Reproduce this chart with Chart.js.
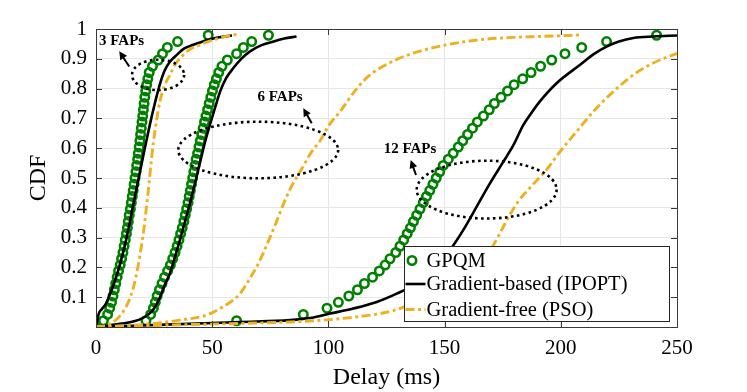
<!DOCTYPE html>
<html><head><meta charset="utf-8">
<script src="https://cdn.jsdelivr.net/npm/chart.js@4.4.1/dist/chart.umd.min.js"></script>
<style>html,body{margin:0;padding:0;background:#fff;}#wrap{width:747px;height:392px;}</style>
</head><body><div id="wrap"><canvas id="c" width="747" height="392"></canvas></div>
<script>
// ---------- data ----------
const xTicks = [0, 50, 100, 150, 200, 250];
const yTicks = [0, 0.1, 0.2, 0.3, 0.4, 0.5, 0.6, 0.7, 0.8, 0.9, 1];
const seriesLabels = ['GPQM', 'Gradient-based (IPOPT)', 'Gradient-free (PSO)'];
const groupLabels = ['3 FAPs', '6 FAPs', '12 FAPs'];

// GPQM empirical CDF levels (same steps for every group)
const cdfLevels = [0, 0.021, 0.042, 0.063, 0.083, 0.104, 0.125, 0.146, 0.167, 0.188, 0.208, 0.229, 0.25, 0.271, 0.292, 0.313, 0.333, 0.354, 0.375, 0.396, 0.417, 0.438, 0.458, 0.479, 0.5, 0.521, 0.542, 0.563, 0.583, 0.604, 0.625, 0.646, 0.667, 0.688, 0.708, 0.729, 0.75, 0.771, 0.792, 0.813, 0.833, 0.854, 0.875, 0.896, 0.917, 0.938, 0.958, 0.979];
const gpqm3Delay = [0, 3.2, 5.0, 5.9, 6.7, 7.3, 7.9, 8.5, 9.1, 9.7, 10.4, 11.0, 11.6, 12.1, 12.6, 13.1, 13.5, 13.9, 14.3, 14.8, 15.2, 15.6, 16.0, 16.4, 16.8, 17.2, 17.5, 17.9, 18.2, 18.6, 18.9, 19.2, 19.5, 19.8, 20.1, 20.4, 20.7, 21.0, 21.4, 21.8, 22.3, 22.9, 24.3, 26.8, 28.6, 30.7, 35.1, 48.3];
const gpqm6Delay = [0, 21.5, 23.5, 24.7, 25.5, 26.3, 27.3, 28.4, 29.5, 30.8, 32.0, 33.0, 34.0, 34.9, 35.7, 36.4, 37.1, 37.8, 38.4, 39.0, 39.6, 40.1, 40.6, 41.1, 41.6, 42.1, 42.6, 43.1, 43.7, 44.3, 44.9, 45.5, 46.1, 46.7, 47.3, 48.0, 48.7, 49.4, 50.1, 50.9, 51.8, 52.8, 54.2, 56.5, 60.5, 63.4, 67.0, 74.2];
const gpqm12Delay = [0, 60.5, 89.2, 99.4, 104.3, 108.8, 112.5, 115.5, 119.0, 121.9, 124.4, 126.5, 129.0, 130.8, 132.4, 133.9, 135.3, 136.6, 138.0, 139.4, 140.8, 142.2, 143.6, 145.0, 146.4, 147.9, 149.4, 151.6, 153.7, 155.9, 157.8, 159.9, 162.0, 164.1, 166.7, 169.2, 171.4, 174.3, 177.1, 179.9, 183.6, 187.2, 191.3, 196.1, 201.8, 209.0, 219.7, 241.2];

// Gradient-based (IPOPT)
const ipopt3Delay = [0, 0.5, 1.2, 2.5, 4.0, 5.5, 7.5, 10.3, 13.2, 16.0, 18.9, 21.0, 23.2, 25.3, 27.5, 29.5, 31.8, 35.0, 38.0, 41.9, 48.0, 53.0, 58.5];
const ipopt3Cdf   = [0, 0.02, 0.045, 0.06, 0.075, 0.1, 0.14, 0.21, 0.3, 0.41, 0.52, 0.6, 0.68, 0.75, 0.815, 0.86, 0.89, 0.915, 0.935, 0.947, 0.963, 0.972, 0.978];
const ipopt6Delay = [0, 8, 16.8, 20, 22.5, 25, 27.5, 29.5, 31.8, 34, 36.1, 38.2, 40.4, 42.5, 44.5, 46.9, 49, 51.2, 53.4, 56, 59.1, 62.5, 66.3, 71, 76.3, 81, 86.3];
const ipopt6Cdf   = [0, 0.008, 0.02, 0.03, 0.042, 0.062, 0.1, 0.14, 0.18, 0.235, 0.292, 0.35, 0.415, 0.48, 0.544, 0.62, 0.678, 0.735, 0.79, 0.835, 0.869, 0.9, 0.925, 0.945, 0.958, 0.968, 0.975];
const ipopt12Delay = [0, 30, 62, 83.5, 92, 100.7, 110.7, 120.8, 129.4, 138, 145.1, 152.3, 158, 163.8, 169.5, 175.3, 179.6, 183.9, 187.5, 191, 198.2, 208.3, 214, 219.7, 225, 231.2, 240, 250];
const ipopt12Cdf   = [0, 0.008, 0.017, 0.023, 0.03, 0.045, 0.062, 0.084, 0.112, 0.146, 0.19, 0.258, 0.325, 0.404, 0.482, 0.555, 0.61, 0.678, 0.72, 0.757, 0.818, 0.88, 0.915, 0.941, 0.958, 0.97, 0.975, 0.978];

// Gradient-free (PSO)
const pso3Delay = [0, 4, 7.5, 9.5, 11.8, 14, 16, 18, 19.5, 20.8, 21.8, 22.8, 23.7, 24.7, 26, 27.5, 29.5, 31.8, 34, 36.9, 40, 44.7, 50, 56, 62];
const pso3Cdf   = [0, 0.004, 0.017, 0.03, 0.053, 0.085, 0.13, 0.2, 0.27, 0.34, 0.41, 0.48, 0.55, 0.62, 0.69, 0.757, 0.81, 0.846, 0.88, 0.908, 0.93, 0.947, 0.962, 0.975, 0.984];
const pso6Delay = [0, 20, 36, 47.6, 54, 59, 62, 66, 70, 74, 77.5, 80.5, 84, 88.5, 92.5, 96.4, 100.5, 105, 112.2, 117, 122.2, 130, 136.5, 150.9, 165.2, 179.6, 191, 209];
const pso6Cdf   = [0, 0.008, 0.023, 0.04, 0.065, 0.09, 0.112, 0.16, 0.215, 0.285, 0.35, 0.41, 0.47, 0.53, 0.585, 0.625, 0.68, 0.723, 0.8, 0.84, 0.869, 0.9, 0.919, 0.947, 0.964, 0.972, 0.975, 0.98];
const pso12Delay = [0, 40, 83.5, 97.8, 112.2, 122.2, 128, 133.5, 140, 148, 155, 161, 166, 171, 174.5, 178.1, 182, 186.5, 190, 193.9, 199.6, 206.8, 214, 222.6, 231.2, 239.8, 250];
const pso12Cdf   = [0, 0.008, 0.017, 0.023, 0.034, 0.045, 0.055, 0.07, 0.088, 0.11, 0.14, 0.18, 0.225, 0.275, 0.325, 0.377, 0.425, 0.465, 0.495, 0.528, 0.588, 0.656, 0.723, 0.79, 0.846, 0.886, 0.918];

// group annotations (data coordinates): ellipse centre/radii, label, arrow tail->head
const annotations = [
  {label: groupLabels[0], cx: 26.7, cy: 0.846, rx: 11.2, ry: 0.051, lx: 11, ly: 0.96, ax0: 14.3, ay0: 0.874, ax1: 10.0, ay1: 0.925},
  {label: groupLabels[1], cx: 69.8, cy: 0.594, rx: 34.4, ry: 0.095, lx: 79.2, ly: 0.771, ax0: 92.8, ay0: 0.684, ax1: 89.2, ay1: 0.734},
  {label: groupLabels[2], cx: 168.1, cy: 0.461, rx: 30.1, ry: 0.097, lx: 135.1, ly: 0.598, ax0: 137.7, ay0: 0.51, ax1: 135.4, ay1: 0.56}
];

// ---------- styles ----------
const GREEN = '#008000', BLACK = '#000000', ORANGE = '#EDB120';
const SERIF = '"Liberation Serif", "DejaVu Serif", serif';
const PSO_DASH = [9, 3.5, 3, 3.5];

const zip = (xs, ys) => xs.map((x, i) => ({x: x, y: ys[i]}));

function gpqmSet(delays) {
  return {label: seriesLabels[0], data: zip(delays, cdfLevels), showLine: false,
    pointStyle: 'circle', pointRadius: 4.2, pointBorderWidth: 2.6, pointBorderColor: GREEN,
    pointBackgroundColor: 'rgba(0,0,0,0)', borderColor: GREEN, order: 3};
}
function lineSet(label, delays, cdf, color, dash) {
  return {label: label, data: zip(delays, cdf), showLine: true, borderColor: color,
    borderWidth: color === ORANGE ? 2.9 : 2.6,
    borderDash: dash || [], pointRadius: 0, fill: false, cubicInterpolationMode: 'monotone',
    order: color === ORANGE ? 1 : 2};
}

const datasets = [
  gpqmSet(gpqm3Delay), gpqmSet(gpqm6Delay), gpqmSet(gpqm12Delay),
  lineSet(seriesLabels[1], ipopt3Delay, ipopt3Cdf, BLACK), lineSet(seriesLabels[1], ipopt6Delay, ipopt6Cdf, BLACK),
  lineSet(seriesLabels[1], ipopt12Delay, ipopt12Cdf, BLACK),
  lineSet(seriesLabels[2], pso3Delay, pso3Cdf, ORANGE, PSO_DASH), lineSet(seriesLabels[2], pso6Delay, pso6Cdf, ORANGE, PSO_DASH),
  lineSet(seriesLabels[2], pso12Delay, pso12Cdf, ORANGE, PSO_DASH)
];

// frame + inward ticks
const framePlugin = {
  id: 'frame',
  afterDatasetsDraw(chart) {
    const {ctx, chartArea: a, scales: {x, y}} = chart;
    ctx.save();
    ctx.strokeStyle = '#3a3a3a'; ctx.lineWidth = 1; ctx.setLineDash([]);
    ctx.beginPath();
    xTicks.forEach(v => { const px = Math.round(x.getPixelForValue(v)) + 0.5;
      ctx.moveTo(px, a.bottom); ctx.lineTo(px, a.bottom - 6); ctx.moveTo(px, a.top); ctx.lineTo(px, a.top + 6); });
    yTicks.forEach(v => { const py = Math.round(y.getPixelForValue(v)) + 0.5;
      ctx.moveTo(a.left, py); ctx.lineTo(a.left + 6, py); ctx.moveTo(a.right, py); ctx.lineTo(a.right - 6, py); });
    ctx.stroke();
    ctx.strokeRect(Math.round(a.left) + 0.5, Math.round(a.top) + 0.5, Math.round(a.right - a.left), Math.round(a.bottom - a.top));
    ctx.restore();
  }
};

const annotPlugin = {
  id: 'annot',
  afterDatasetsDraw(chart) {
    const {ctx, scales: {x, y}} = chart;
    ctx.save();
    annotations.forEach(an => {
      const cx = x.getPixelForValue(an.cx), cy = y.getPixelForValue(an.cy);
      const rx = x.getPixelForValue(an.cx + an.rx) - cx, ry = cy - y.getPixelForValue(an.cy + an.ry);
      ctx.setLineDash([2.6, 3.4]); ctx.lineWidth = 2.6; ctx.strokeStyle = '#000'; ctx.lineCap = 'butt';
      ctx.beginPath(); ctx.ellipse(cx, cy, rx, ry, 0, 0, Math.PI * 2); ctx.stroke();
      // arrow
      const x0 = x.getPixelForValue(an.ax0), y0 = y.getPixelForValue(an.ay0);
      const x1 = x.getPixelForValue(an.ax1), y1 = y.getPixelForValue(an.ay1);
      const ang = Math.atan2(y1 - y0, x1 - x0), hl = 8, hw = 4;
      ctx.setLineDash([]); ctx.lineWidth = 2;
      ctx.beginPath(); ctx.moveTo(x0, y0); ctx.lineTo(x1 - hl * Math.cos(ang) * 0.8, y1 - hl * Math.sin(ang) * 0.8); ctx.stroke();
      ctx.fillStyle = '#000'; ctx.beginPath();
      ctx.moveTo(x1, y1);
      ctx.lineTo(x1 - hl * Math.cos(ang) + hw * Math.sin(ang), y1 - hl * Math.sin(ang) - hw * Math.cos(ang));
      ctx.lineTo(x1 - hl * Math.cos(ang) - hw * Math.sin(ang), y1 - hl * Math.sin(ang) + hw * Math.cos(ang));
      ctx.closePath(); ctx.fill();
      // label
      ctx.font = 'bold 15px ' + SERIF; ctx.textAlign = 'center'; ctx.textBaseline = 'middle';
      ctx.fillText(an.label, x.getPixelForValue(an.lx), y.getPixelForValue(an.ly));
    });
    ctx.restore();
  }
};

const legendPlugin = {
  id: 'boxLegend',
  afterDraw(chart) {
    const {ctx, chartArea: a} = chart;
    const w = 265, h = 75;
    const L = Math.round(a.right - 8 - w) + 0.5, T = Math.round(a.bottom - 6 - h) + 0.5;
    ctx.save();
    ctx.fillStyle = '#fff'; ctx.fillRect(L, T, w, h);
    ctx.strokeStyle = '#262626'; ctx.lineWidth = 1; ctx.setLineDash([]); ctx.strokeRect(L, T, w, h);
    const rows = [T + 14, T + 37.5, T + 63];
    ctx.font = '20.5px ' + SERIF; ctx.textBaseline = 'middle'; ctx.textAlign = 'left'; ctx.fillStyle = '#000';
    ctx.strokeStyle = GREEN; ctx.lineWidth = 2.6; ctx.beginPath(); ctx.arc(L + 7.5, rows[0], 4.2, 0, Math.PI * 2); ctx.stroke();
    ctx.strokeStyle = BLACK; ctx.beginPath(); ctx.moveTo(L + 1, rows[1]); ctx.lineTo(L + 21, rows[1]); ctx.stroke();
    ctx.strokeStyle = ORANGE; ctx.lineWidth = 2.9; ctx.setLineDash(PSO_DASH); ctx.beginPath(); ctx.moveTo(L + 1, rows[2]); ctx.lineTo(L + 21, rows[2]); ctx.stroke();
    ctx.setLineDash([]);
    seriesLabels.forEach((t, i) => ctx.fillText(t, L + 22, rows[i] + 1));
    ctx.restore();
  }
};

new Chart(document.getElementById('c'), {
  type: 'scatter',
  data: {datasets: datasets},
  options: {
    responsive: false, animation: false, devicePixelRatio: 1,
    layout: {padding: {left: 0, top: 29, right: 70, bottom: 0}},
    plugins: {legend: {display: false}, tooltip: {enabled: false}},
    scales: {
      x: {type: 'linear', min: 0, max: 250,
        afterBuildTicks: s => { s.ticks = xTicks.map(v => ({value: v})); },
        afterFit: s => { s.height = 65; },
        grid: {color: '#e6e6e6', lineWidth: 1, drawTicks: false},
        border: {display: false},
        ticks: {color: '#000', padding: 9, font: {family: SERIF, size: 21}, maxRotation: 0},
        title: {display: true, text: 'Delay (ms)', color: '#000', font: {family: SERIF, size: 24}, padding: {top: 0, bottom: 0}}
      },
      y: {type: 'linear', min: 0, max: 1,
        afterBuildTicks: s => { s.ticks = yTicks.map(v => ({value: v})); },
        afterFit: s => { s.width = 96; },
        grid: {color: '#e6e6e6', lineWidth: 1, drawTicks: false},
        border: {display: false},
        ticks: {color: '#000', padding: 9, font: {family: SERIF, size: 21},
          callback: v => v === 0 ? '' : String(Math.round(v * 10) / 10)},
        title: {display: true, text: 'CDF', color: '#000', font: {family: SERIF, size: 24}, padding: {top: 24, bottom: 0}}
      }
    }
  },
  plugins: [framePlugin, annotPlugin, legendPlugin]
});
</script></body></html>
